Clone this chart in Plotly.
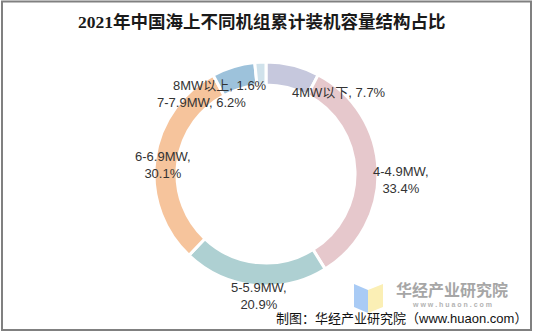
import plotly.graph_objects as go

# Cumulative installed offshore wind capacity by turbine size, 2021
categories = ["4MW以下", "4-4.9MW", "5-5.9MW", "6-6.9MW", "7-7.9MW", "8MW以上"]
shares = [7.7, 33.4, 20.9, 30.1, 6.2, 1.6]
colors = ["#c6c8dd", "#e6c8cc", "#aed0d2", "#f6c49c", "#9dc2db", "#d0e2eb"]

W, H = 534, 333


def px(x, y):
    """Convert pixel coordinates (origin top-left) to paper coordinates."""
    return x / W, 1 - y / H


fig = go.Figure()

cx, cy, r = 266, 174, 112
x0, y0 = px(cx - r, cy + r)
x1, y1 = px(cx + r, cy - r)
fig.add_trace(go.Pie(
    labels=categories,
    values=shares,
    sort=False,
    direction="clockwise",
    rotation=0,
    hole=0.795,
    marker=dict(colors=colors, line=dict(color="white", width=3)),
    textinfo="none",
    hoverinfo="label+percent",
    showlegend=False,
    domain=dict(x=[x0, x1], y=[y0, y1]),
))

# Slice labels: (center x, center y, line break after name)
label_layout = {
    "4MW以下": (339, 92, False),
    "4-4.9MW": (401, 180, True),
    "5-5.9MW": (259, 296, True),
    "6-6.9MW": (163, 165, True),
    "7-7.9MW": (201, 102, False),
    "8MW以上": (220, 86, False),
}
annotations = []
for name, val in zip(categories, shares):
    lx, ly, wrap = label_layout[name]
    sep = ",<br>" if wrap else ", "
    ax, ay = px(lx, ly)
    annotations.append(dict(
        x=ax, y=ay, xref="paper", yref="paper", showarrow=False,
        text=f"{name}{sep}{val}%", xanchor="center", yanchor="middle",
        font=dict(family="Liberation Sans, Arial, Noto Sans CJK SC", size=13, color="#333333"),
        align="center",
    ))

# Title
tx, ty = px(262, 22)
annotations.append(dict(
    x=tx, y=ty, xref="paper", yref="paper", showarrow=False,
    text="<b>2021年中国海上不同机组累计装机容量结构占比</b>",
    xanchor="center", yanchor="middle",
    font=dict(family="Liberation Serif, Noto Sans CJK SC", size=17.5, color="#1a1a1a"),
))

# Watermark text
wx, wy = px(452, 289)
annotations.append(dict(
    x=wx, y=wy, xref="paper", yref="paper", showarrow=False,
    text="<b>华经产业研究院</b>", xanchor="center", yanchor="middle",
    font=dict(family="Noto Sans CJK SC", size=16, color="#a6a6a6"),
))
wx2, wy2 = px(452, 304.5)
annotations.append(dict(
    x=wx2, y=wy2, xref="paper", yref="paper", showarrow=False,
    text="<b>w w w . h u a o n . c o m</b>", xanchor="center", yanchor="middle",
    font=dict(family="Liberation Sans", size=7, color="#b3b3b3"),
))

# Source note
sx, sy = px(529, 318.5)
annotations.append(dict(
    x=sx, y=sy, xref="paper", yref="paper", showarrow=False,
    text="制图：华经产业研究院（www.huaon.com）", xanchor="right", yanchor="middle",
    font=dict(family="Liberation Sans, Noto Sans CJK SC", size=13, color="#111111"),
))

shapes = []
# Watermark logo: two folded panels
bx = [354, 368, 368, 354]
by = [284, 290, 313, 307]
path_b = "M " + " L ".join(f"{px(a, b)[0]},{px(a, b)[1]}" for a, b in zip(bx, by)) + " Z"
shapes.append(dict(type="path", xref="paper", yref="paper", path=path_b,
                   fillcolor="#a9cbf5", line=dict(width=0), layer="below"))
yx = [368, 383, 383, 368]
yy = [290, 284, 307, 313]
path_y = "M " + " L ".join(f"{px(a, b)[0]},{px(a, b)[1]}" for a, b in zip(yx, yy)) + " Z"
shapes.append(dict(type="path", xref="paper", yref="paper", path=path_y,
                   fillcolor="#fbefb5", line=dict(width=0), layer="below"))

# Outer frame
fx0, fy0 = px(2, 330)
fx1, fy1 = px(531, 1.5)
shapes.append(dict(type="rect", xref="paper", yref="paper",
                   x0=fx0, y0=fy0, x1=fx1, y1=fy1,
                   line=dict(color="#808080", width=2), fillcolor="rgba(0,0,0,0)"))

fig.update_layout(
    width=W, height=H,
    margin=dict(l=0, r=0, t=0, b=0),
    paper_bgcolor="white",
    plot_bgcolor="white",
    annotations=annotations,
    shapes=shapes,
)

fig.write_html("out.html", config={"displayModeBar": False})
